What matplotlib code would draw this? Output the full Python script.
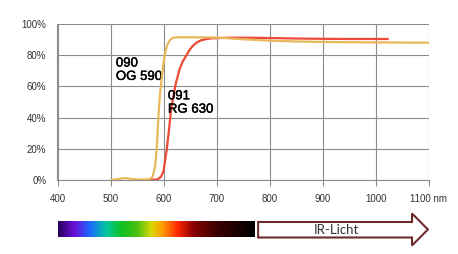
import numpy as np
import matplotlib
matplotlib.use("Agg")
import matplotlib.pyplot as plt
import matplotlib.patheffects as pe
from matplotlib.colors import LinearSegmentedColormap
from matplotlib.patches import Polygon

plt.rcParams['font.family'] = ['Liberation Sans', 'DejaVu Sans']

# OG 590 transmission curve (nm, %)
og_wl = [502, 510, 520, 527, 535, 545, 555, 565, 572, 577, 580, 584, 587, 590, 593,
         596, 599, 602, 606, 612, 616, 620, 625, 630, 650, 700, 750, 800, 850, 900, 950, 1000, 1050, 1100]
og_t = [0, 0.4, 0.9, 1.2, 0.9, 0.5, 0.3, 0.3, 0.6, 1.2, 3, 9, 20, 40, 55,
        64, 73, 80, 86, 89.8, 90.8, 91.3, 91.5, 91.5, 91.5, 91.3, 90.2, 89.3, 88.8, 88.5, 88.3, 88.2, 88.1, 88.0]

# RG 630 transmission curve (nm, %)
rg_wl = [570, 588, 595, 600, 606, 610, 614, 618, 623, 630, 636, 643, 649, 655, 662, 670, 680, 690, 720,
         760, 800, 850, 900, 950, 1000, 1022]
rg_t = [0, 0.3, 2, 6, 20, 32, 45, 53, 62, 71, 76, 80, 83.5, 86, 88, 89.5, 90.3, 90.8, 91.2,
        91.2, 91.0, 90.7, 90.5, 90.4, 90.4, 90.4]

x_ticks = [400, 500, 600, 700, 800, 900, 1000, 1100]
x_labels = ['400', '500', '600', '700', '800', '900', '1000', '1100 nm']
y_ticks = [0, 20, 40, 60, 80, 100]
y_labels = ['0%', '20%', '40%', '60%', '80%', '100%']

# visible spectrum bar
spec_nm = [400, 430, 460, 490, 520, 550, 575, 595, 625, 655, 700, 770]
spec_col = ['#2a0060', '#6a10d8', '#1a6aff', '#00c8a0', '#10c020', '#50c010',
            '#d8d800', '#ffa000', '#ff2800', '#8a0000', '#3a0000', '#000000']

fig = plt.figure(figsize=(4.58, 2.54), dpi=100)
ax = fig.add_axes([57.5 / 458, 1 - 180 / 254, (429 - 57.5) / 458, 156 / 254])

ax.plot(rg_wl, rg_t, color='#ec4a36', lw=1.6, zorder=3)
ax.plot(og_wl, og_t, color='#e8b85a', lw=1.6, zorder=4)

ax.set_xlim(400, 1100)
ax.set_ylim(0, 100)
ax.set_xticks(x_ticks)
ax.set_xticklabels(x_labels)
ax.set_yticks(y_ticks)
ax.set_yticklabels(y_labels)
ax.grid(True, color='#8c8c8c', lw=0.8)
ax.tick_params(axis='both', labelsize=7, colors='#8c8c8c', labelcolor='#333333', length=4, width=0.8)
ax.tick_params(axis='x', pad=6)
ax.tick_params(axis='y', length=0, pad=8)
for s in ['top', 'right']:
    ax.spines[s].set_visible(False)
for s in ['left', 'bottom']:
    ax.spines[s].set_color('#8c8c8c')
    ax.spines[s].set_linewidth(0.8)

heavy = [pe.withStroke(linewidth=0.3, foreground='black')]
ax.text(510, 78.5, '090\nOG 590', fontsize=9.5, va='top', ha='left', linespacing=1.15,
        path_effects=heavy)
ax.text(608, 57.5, '091\nRG 630', fontsize=9.5, va='top', ha='left', linespacing=1.15,
        path_effects=heavy)

# spectrum and IR arrow below
bx = fig.add_axes([57.5 / 458, 0, (429 - 57.5) / 458, 50 / 254])
bx.set_xlim(400, 1100)
bx.set_ylim(254, 204)
bx.axis('off')
pos = [(n - 400) / (770 - 400) for n in spec_nm]
cmap = LinearSegmentedColormap.from_list('spec', list(zip(pos, spec_col)))
grad = np.linspace(0, 1, 300).reshape(1, -1)
bx.imshow(grad, cmap=cmap, aspect='auto', extent=(400, 770, 237.5, 221.5))

arrow = Polygon([(778, 222), (1068, 222), (1068, 213.5), (1098, 229.5),
                 (1068, 245.5), (1068, 237.5), (778, 237.5)],
                closed=True, facecolor='white', edgecolor='#6e2b2b', lw=1.5)
bx.add_patch(arrow)
bx.text(925, 230, 'IR-Licht', fontsize=9.5, ha='center', va='center', color='#333333',
        family=['Lato', 'DejaVu Sans'])

fig.savefig('out.png', dpi=100)
